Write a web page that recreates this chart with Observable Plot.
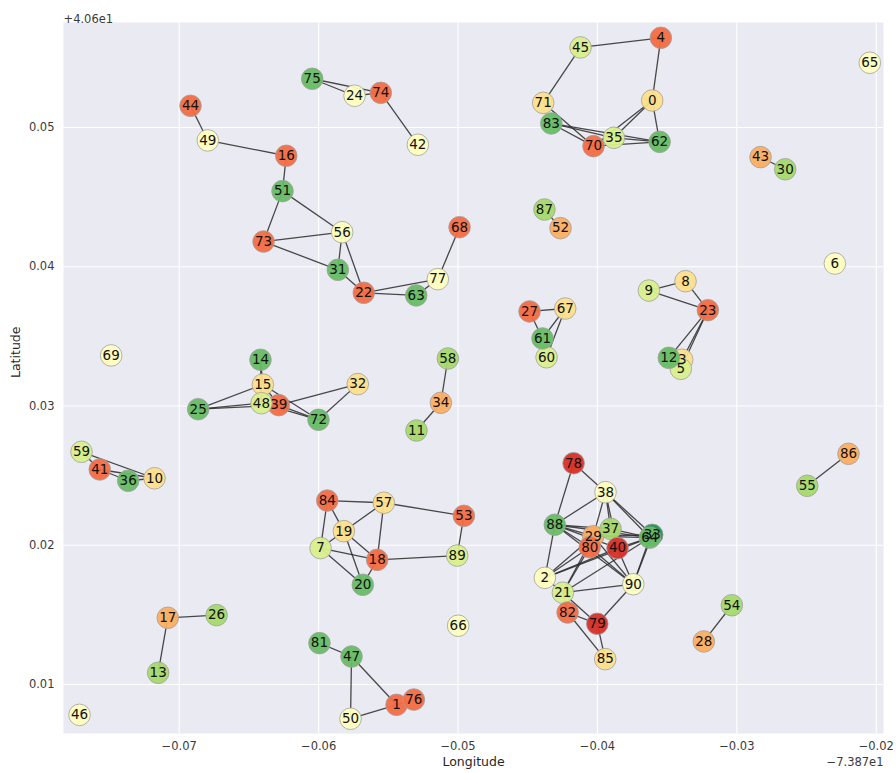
<!DOCTYPE html>
<html><head><meta charset="utf-8">
<script src="https://cdn.jsdelivr.net/npm/d3@7"></script>
<script src="https://cdn.jsdelivr.net/npm/@observablehq/plot@0.6"></script>
<style>body{margin:0;background:#fff;}</style>
</head><body><div id="chart"></div>
<script>
// Longitude values are offsets from -73.87, latitude offsets from +40.6 (as in the axis offset text)
const nodeIds = d3.range(91);
const lonOffset = [
-0.03607,-0.05441,-0.04377,-0.03392,-0.03545,-0.03402,-0.02297,-0.05986,-0.03368,-0.03631,
-0.07177,-0.05298,-0.03488,-0.07151,-0.06417,-0.06400,-0.06232,-0.07082,-0.05580,-0.05819,
-0.05683,-0.04248,-0.05676,-0.03208,-0.05742,-0.06864,-0.06732,-0.04487,-0.03237,-0.04030,
-0.02653,-0.05862,-0.05719,-0.03607,-0.05123,-0.03882,-0.07366,-0.03906,-0.03942,-0.06286,
-0.03856,-0.07570,-0.05288,-0.02830,-0.06919,-0.04121,-0.07715,-0.05764,-0.06410,-0.06795,
-0.05771,-0.06259,-0.04265,-0.04958,-0.03036,-0.02495,-0.05831,-0.05532,-0.05073,-0.07701,
-0.04365,-0.04394,-0.03554,-0.05300,-0.03624,-0.02046,-0.04999,-0.04231,-0.04989,-0.07488,
-0.04028,-0.04389,-0.06001,-0.06395,-0.05554,-0.06046,-0.05317,-0.05145,-0.04171,-0.04001,
-0.04055,-0.05994,-0.04214,-0.04331,-0.05938,-0.03944,-0.02199,-0.04380,-0.04306,-0.05006,
-0.03743];
const latOffset = [
0.05194,0.00854,0.01766,0.03332,0.05644,0.03267,0.04023,0.01979,0.03896,0.03829,
0.02481,0.02824,0.03346,0.01084,0.03332,0.03154,0.04797,0.01479,0.01895,0.02101,
0.01716,0.01659,0.03813,0.03688,0.05228,0.02977,0.01498,0.03679,0.01309,0.02065,
0.04700,0.03978,0.03157,0.02075,0.03023,0.04926,0.02463,0.02118,0.02381,0.03006,
0.01979,0.02544,0.04876,0.04787,0.05156,0.05575,0.00782,0.01201,0.03020,0.04907,
0.00754,0.04543,0.04277,0.02211,0.01569,0.02427,0.04248,0.02305,0.03341,0.02671,
0.03350,0.03485,0.04897,0.03794,0.02054,0.05465,0.01422,0.03700,0.04284,0.03363,
0.04866,0.05177,0.02901,0.04181,0.05249,0.05350,0.00892,0.03911,0.02589,0.01436,
0.01986,0.01297,0.01517,0.05029,0.02321,0.01182,0.02657,0.04411,0.02147,0.01926,
0.01720];
// colour class of each node (index into an 11-class RdYlGn palette)
const colorLevel = [
4,2,5,4,2,6,5,6,4,6,
4,7,8,7,8,4,2,3,2,4,
8,6,2,2,5,8,7,2,3,3,
7,8,4,9,3,6,8,7,5,2,
1,2,5,3,2,6,5,8,6,5,
5,8,3,2,7,7,5,4,7,6,
6,8,8,8,8,5,5,4,2,5,
2,4,8,2,2,8,2,5,1,1,
2,8,2,8,2,4,3,7,8,6,
5];
const edges = [
[44,49],[49,16],[16,51],[51,73],[51,56],[73,56],[73,31],[56,31],[56,22],[31,22],[22,63],[22,77],[63,77],[77,68],
[75,24],[75,74],[24,74],[74,42],
[45,4],[45,71],[4,0],[0,35],[0,70],[0,62],[35,62],[70,62],[83,35],[83,70],[71,70],[83,62],
[43,30],[87,52],[86,55],[54,28],
[9,8],[9,23],[8,23],[23,12],[23,3],[23,5],
[27,67],[27,61],[61,67],[60,67],
[58,34],[34,11],
[14,15],[14,48],[15,25],[15,72],[15,39],[25,48],[25,39],[48,39],[48,72],[39,72],[39,32],[72,32],
[59,41],[59,10],[41,36],[41,10],[36,10],
[17,26],[17,13],
[84,57],[84,19],[84,7],[19,57],[19,7],[19,18],[19,20],[7,18],[7,20],[57,18],[57,53],[18,20],[18,89],[53,89],
[81,47],[47,50],[47,1],[50,1],[1,76],
[78,88],[78,38],[38,88],[38,29],[38,37],[38,64],[38,33],[38,40],[88,29],[88,80],[88,37],[88,64],[88,40],[88,2],
[37,64],[37,80],[29,64],[29,33],[40,64],[40,90],[80,90],[2,80],[2,29],[2,40],[2,64],[21,80],[21,29],[21,64],
[21,90],[21,82],[21,79],[82,79],[82,85],[79,85],[79,90],[90,64],[90,33],[88,90],[29,90],[2,21]
];
const xTicks = [-0.07,-0.06,-0.05,-0.04,-0.03,-0.02];
const yTicks = [0.01,0.02,0.03,0.04,0.05];
const xLabel = "Longitude", yLabel = "Latitude";
const xOffsetText = "\u22127.387e1", yOffsetText = "+4.06e1";

const nodes = nodeIds.map(i => ({id: i, lon: lonOffset[i], lat: latOffset[i], level: colorLevel[i]}));
const links = edges.map(([a, b]) => ({x1: lonOffset[a], y1: latOffset[a], x2: lonOffset[b], y2: latOffset[b]}));
const fmt = d3.format(".2f");

const chart = Plot.plot({
  width: 896, height: 773,
  marginLeft: 63, marginRight: 13, marginTop: 22, marginBottom: 40,
  style: {fontFamily: "DejaVu Sans", background: "#fff", color: "#3a3a3a"},
  x: {domain: [-0.0783, -0.01948]},
  y: {domain: [0.00648, 0.05754]},
  color: {type: "ordinal", domain: d3.range(11), range: d3.schemeRdYlGn[11]},
  marks: [
    Plot.frame({fill: "#EAEAF2", stroke: "none"}),
    Plot.gridX(xTicks, {stroke: "#fff", strokeOpacity: 1, strokeWidth: 1.1}),
    Plot.gridY(yTicks, {stroke: "#fff", strokeOpacity: 1, strokeWidth: 1.1}),
    Plot.axisX(xTicks, {tickSize: 0, tickPadding: 8, fontSize: 11.5, tickFormat: fmt, label: null}),
    Plot.axisY(yTicks, {tickSize: 0, tickPadding: 9, fontSize: 11.5, tickFormat: fmt, label: null}),
    Plot.link(links, {x1: "x1", y1: "y1", x2: "x2", y2: "y2", stroke: "#2a2a2a", strokeWidth: 1.3, strokeOpacity: 0.85}),
    Plot.dot(nodes, {x: "lon", y: "lat", r: 10.8, fill: "level", fillOpacity: 0.95, stroke: "#a0a0a0", strokeWidth: 0.8}),
    Plot.text(nodes, {x: "lon", y: "lat", text: d => String(d.id), fontSize: 13.5, fill: "#111"}),
    Plot.text([xLabel], {frameAnchor: "bottom", dy: 32, fontSize: 12.5, fill: "#262626"}),
    Plot.text([yLabel], {frameAnchor: "left", dx: -48, rotate: -90, fontSize: 12.5, fill: "#262626"}),
    Plot.text([yOffsetText], {frameAnchor: "top-left", textAnchor: "start", dy: -8, fontSize: 11.5}),
    Plot.text([xOffsetText], {frameAnchor: "bottom-right", textAnchor: "end", dy: 32, fontSize: 11.5})
  ]
});
document.getElementById("chart").appendChild(chart);
</script>
</body></html>
